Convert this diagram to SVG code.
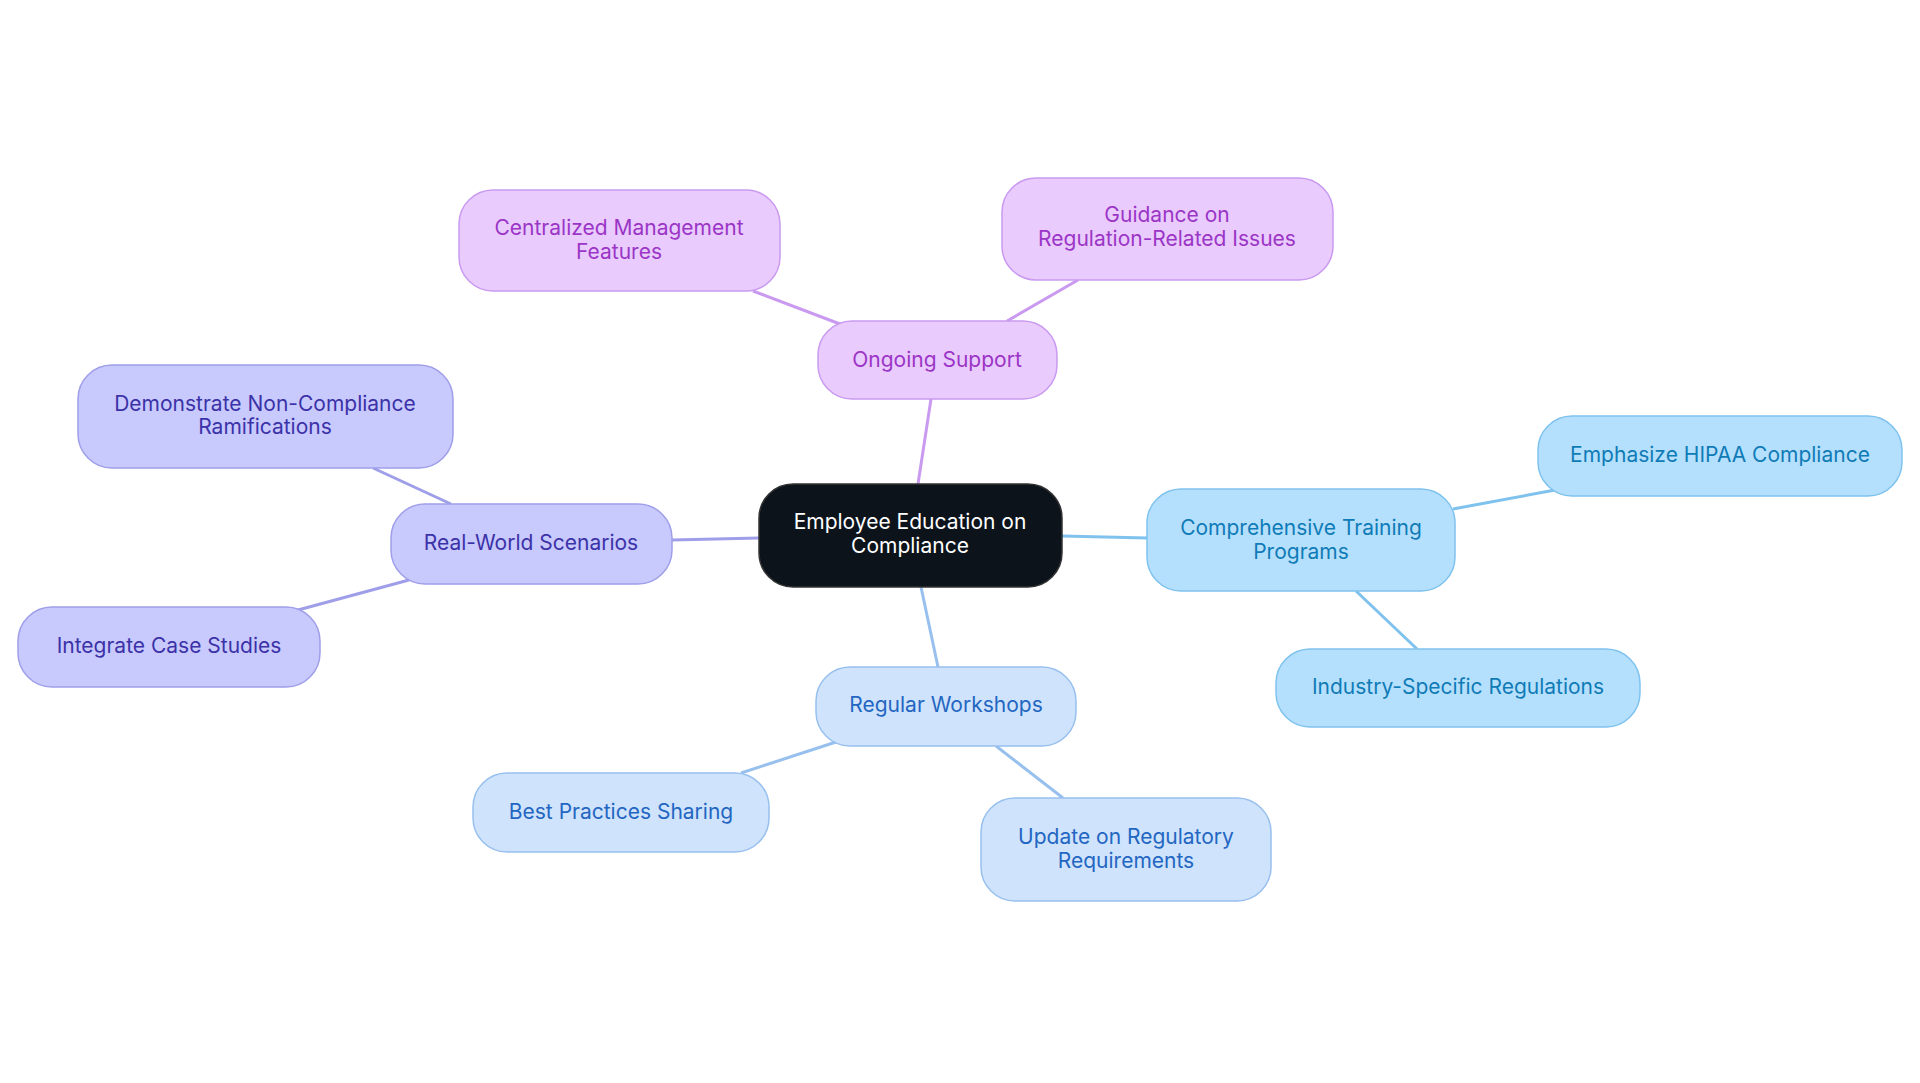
<svg xmlns="http://www.w3.org/2000/svg" width="1920" height="1083" viewBox="0 0 1920 1083">
<style>
text{font-family:Inter,"Noto Sans",sans-serif;font-size:21px;text-anchor:middle}
.p rect{fill:#e9cbfd;stroke:#c99af0;stroke-width:1.5}.p text{fill:#9b35c6}
.v rect{fill:#c8c9fd;stroke:#9f9ee9;stroke-width:1.5}.v text{fill:#3b32a8}
.b rect{fill:#b5e0fd;stroke:#7fc2ee;stroke-width:1.5}.b text{fill:#0f7bb7}
.l rect{fill:#cfe3fc;stroke:#98c0ee;stroke-width:1.5}.l text{fill:#2366c2}
#edges line{stroke-width:3}
</style>
<rect width="1920" height="1083" fill="#fff"/>
<g id="edges">
<line x1="918" y1="484" x2="931" y2="399" stroke="#c99af0"/>
<line x1="840" y1="324" x2="753" y2="291" stroke="#c99af0"/>
<line x1="1007" y1="321" x2="1078" y2="280" stroke="#c99af0"/>
<line x1="759" y1="538" x2="672" y2="540" stroke="#9f9ee9"/>
<line x1="451" y1="504" x2="373" y2="468" stroke="#9f9ee9"/>
<line x1="409" y1="580" x2="298" y2="610" stroke="#9f9ee9"/>
<line x1="1062" y1="536" x2="1147" y2="538" stroke="#7fc2ee"/>
<line x1="1453" y1="509" x2="1555" y2="490" stroke="#7fc2ee"/>
<line x1="1356" y1="591" x2="1417" y2="649" stroke="#7fc2ee"/>
<line x1="921" y1="587" x2="938" y2="667" stroke="#98c0ee"/>
<line x1="836" y1="742" x2="741" y2="773" stroke="#98c0ee"/>
<line x1="996" y1="746" x2="1063" y2="798" stroke="#98c0ee"/>
</g>
<g id="center"><rect x="759" y="484" width="303" height="103" rx="34" fill="#0c131b" stroke="#333" stroke-width="1.5"/><text x="910" y="529" fill="#fff">Employee Education on</text><text x="910" y="553" fill="#fff">Compliance</text></g>
<g id="ongoing" class="p"><rect x="818" y="321" width="239" height="78" rx="34"/><text x="937" y="367">Ongoing Support</text></g>
<g id="centralized" class="p"><rect x="459" y="190" width="321" height="101" rx="34"/><text x="619" y="235">Centralized Management</text><text x="619" y="259">Features</text></g>
<g id="guidance" class="p"><rect x="1002" y="178" width="331" height="102" rx="34"/><text x="1167" y="222">Guidance on</text><text x="1167" y="246">Regulation-Related Issues</text></g>
<g id="realworld" class="v"><rect x="391" y="504" width="281" height="80" rx="34"/><text x="531" y="550">Real-World Scenarios</text></g>
<g id="demonstrate" class="v"><rect x="78" y="365" width="375" height="103" rx="34"/><text x="265" y="411">Demonstrate Non-Compliance</text><text x="265" y="434">Ramifications</text></g>
<g id="integrate" class="v"><rect x="18" y="607" width="302" height="80" rx="34"/><text x="169" y="653">Integrate Case Studies</text></g>
<g id="comprehensive" class="b"><rect x="1147" y="489" width="308" height="102" rx="34"/><text x="1301" y="535">Comprehensive Training</text><text x="1301" y="559">Programs</text></g>
<g id="hipaa" class="b"><rect x="1538" y="416" width="364" height="80" rx="34"/><text x="1720" y="462">Emphasize HIPAA Compliance</text></g>
<g id="industry" class="b"><rect x="1276" y="649" width="364" height="78" rx="34"/><text x="1458" y="694">Industry-Specific Regulations</text></g>
<g id="workshops" class="l"><rect x="816" y="667" width="260" height="79" rx="34"/><text x="946" y="712">Regular Workshops</text></g>
<g id="best" class="l"><rect x="473" y="773" width="296" height="79" rx="34"/><text x="621" y="819">Best Practices Sharing</text></g>
<g id="update" class="l"><rect x="981" y="798" width="290" height="103" rx="34"/><text x="1126" y="844">Update on Regulatory</text><text x="1126" y="868">Requirements</text></g>
</svg>
